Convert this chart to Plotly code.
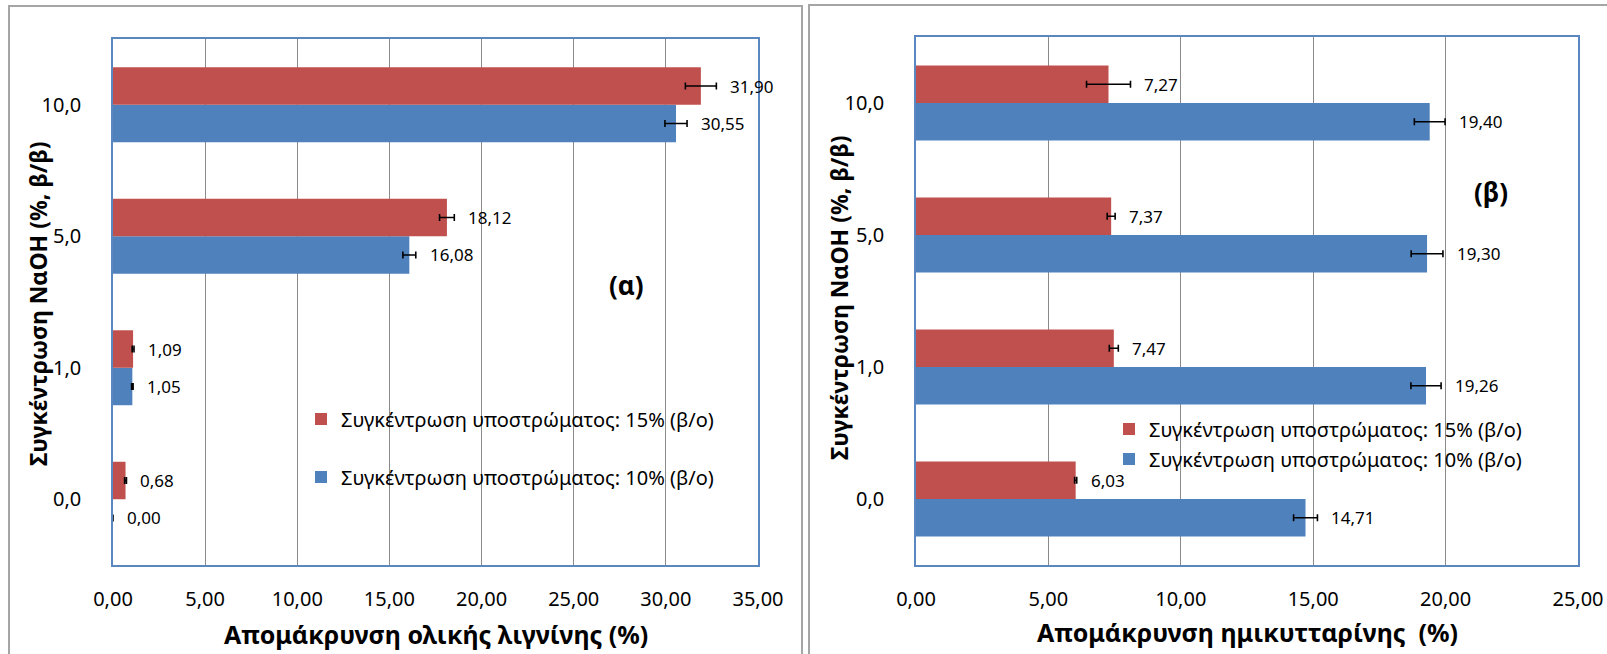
import plotly.graph_objects as go

W, H = 1607, 654

# ---------------- data ----------------
naoh = ["0,0", "1,0", "5,0", "10,0"]

lignin_10 = [0.00, 1.05, 16.08, 30.55]
lignin_15 = [0.68, 1.09, 18.12, 31.90]
lignin_10_err = [0.00, 0.04, 0.35, 0.60]
lignin_15_err = [0.05, 0.05, 0.40, 0.84]

hemi_10 = [14.71, 19.26, 19.30, 19.40]
hemi_15 = [6.03, 7.47, 7.37, 7.27]
hemi_10_err = [0.45, 0.57, 0.60, 0.58]
hemi_15_err = [0.04, 0.17, 0.15, 0.83]

name_15 = "Συγκέντρωση υποστρώματος: 15% (β/ο)"
name_10 = "Συγκέντρωση υποστρώματος: 10% (β/ο)"

RED = "#C0504D"
BLUE = "#4F81BD"
FONT = "Noto Sans"

def px_x(p):
    return p / W

def px_y(p):
    return 1 - p / H

fig = go.Figure()

def add_bars(xs, err, name, color, xa, ya, leg, group, rank):
    fig.add_trace(go.Bar(
        y=naoh, x=xs, orientation="h", name=name,
        marker=dict(color=color, line=dict(width=0)),
        error_x=dict(type="data", array=err, visible=True,
                     color="black", thickness=1.6, width=3.5),
        xaxis=xa, yaxis=ya, legend=leg, legendgroup=group, legendrank=rank,
    ))

# left panel (lignin)
add_bars(lignin_10, lignin_10_err, name_10, BLUE, "x", "y", "legend", "a10", 2)
add_bars(lignin_15, lignin_15_err, name_15, RED, "x", "y", "legend", "a15", 1)
# right panel (hemicellulose)
add_bars(hemi_10, hemi_10_err, name_10, BLUE, "x2", "y2", "legend2", "b10", 2)
add_bars(hemi_15, hemi_15_err, name_15, RED, "x2", "y2", "legend2", "b15", 1)

bargap = 0.43
off = (1 - bargap) / 4

def fmt(v):
    return f"{v:.2f}".replace(".", ",")

annotations = []
for vals, errs, sign, xr, yr in [
    (lignin_10, lignin_10_err, -1, "x", "y"),
    (lignin_15, lignin_15_err, 1, "x", "y"),
    (hemi_10, hemi_10_err, -1, "x2", "y2"),
    (hemi_15, hemi_15_err, 1, "x2", "y2"),
]:
    for i, (v, e) in enumerate(zip(vals, errs)):
        annotations.append(dict(
            x=v + e, y=i + sign * off, xref=xr, yref=yr,
            text=fmt(v), showarrow=False, xanchor="left", yanchor="middle",
            xshift=12, font=dict(family=FONT, size=17, color="black"),
        ))

title_font = dict(family=FONT, size=25, color="black")
ytitle_font = dict(family=FONT, size=23, color="black")
# axis titles
annotations += [
    dict(x=px_x(435.5), y=px_y(634), xref="paper", yref="paper",
         text="<b>Απομάκρυνση ολικής λιγνίνης (%)</b>", showarrow=False,
         xanchor="center", yanchor="middle", font=title_font),
    dict(x=px_x(1247), y=px_y(632), xref="paper", yref="paper",
         text="<b>Απομάκρυνση ημικυτταρίνης  (%)</b>", showarrow=False,
         xanchor="center", yanchor="middle", font=title_font),
    dict(x=px_x(38), y=px_y(304), xref="paper", yref="paper",
         text="<b>Συγκέντρωση ΝαΟΗ (%, β/β)</b>", showarrow=False, textangle=-90,
         xanchor="center", yanchor="middle", font=ytitle_font),
    dict(x=px_x(839), y=px_y(298), xref="paper", yref="paper",
         text="<b>Συγκέντρωση ΝαΟΗ (%, β/β)</b>", showarrow=False, textangle=-90,
         xanchor="center", yanchor="middle", font=ytitle_font),
    dict(x=px_x(626), y=px_y(285), xref="paper", yref="paper",
         text="<b>(α)</b>", showarrow=False, xanchor="center", yanchor="middle",
         font=dict(family=FONT, size=26, color="black")),
    dict(x=px_x(1491), y=px_y(192), xref="paper", yref="paper",
         text="<b>(β)</b>", showarrow=False, xanchor="center", yanchor="middle",
         font=dict(family=FONT, size=26, color="black")),
]

AXLINE = "#5B87C0"
GRID = "#8A8A8A"
tick_font = dict(family=FONT, size=20, color="black")

xcommon = dict(dtick=5, tickformat=".2f", showgrid=True, gridcolor=GRID, gridwidth=1.3,
               showline=True, linecolor=AXLINE, linewidth=1.5, mirror=True,
               zeroline=False, ticks="", tickfont=tick_font, ticklabelstandoff=15,
               fixedrange=True, automargin=False)
ycommon = dict(type="category", showgrid=False, showline=True, linecolor=AXLINE,
               linewidth=1.5, mirror=True, ticks="", tickfont=tick_font,
               ticklabelstandoff=26, fixedrange=True, automargin=False)

shapes = [
    dict(type="rect", xref="paper", yref="paper", x0=px_x(9), x1=px_x(802),
         y0=-0.05, y1=px_y(6), line=dict(color="#A5A5A5", width=2)),
    dict(type="rect", xref="paper", yref="paper", x0=px_x(809), x1=1.02,
         y0=-0.05, y1=px_y(5), line=dict(color="#A5A5A5", width=2)),
]

legend_font = dict(family=FONT, size=20, color="black")

fig.update_layout(
    width=W, height=H, margin=dict(l=0, r=0, t=0, b=0, autoexpand=False),
    paper_bgcolor="white", plot_bgcolor="white",
    separators=",.",
    barmode="group", bargap=bargap, bargroupgap=0,
    xaxis=dict(domain=[px_x(113), px_x(758)], range=[0, 35], anchor="y", **xcommon),
    yaxis=dict(domain=[px_y(565), px_y(39)], anchor="x", **ycommon),
    xaxis2=dict(domain=[px_x(916), px_x(1578)], range=[0, 25], anchor="y2", **xcommon),
    yaxis2=dict(domain=[px_y(565), px_y(37)], anchor="x2", **ycommon),
    legend=dict(x=px_x(301), y=px_y(448), xanchor="left", yanchor="middle",
                traceorder="grouped", tracegroupgap=29,
                font=legend_font, bgcolor="rgba(0,0,0,0)"),
    legend2=dict(x=px_x(1109), y=px_y(444), xanchor="left", yanchor="middle",
                 traceorder="grouped", tracegroupgap=1,
                 font=legend_font, bgcolor="rgba(0,0,0,0)"),
    annotations=annotations,
    shapes=shapes,
    showlegend=True,
)

fig.write_html("out.html")
